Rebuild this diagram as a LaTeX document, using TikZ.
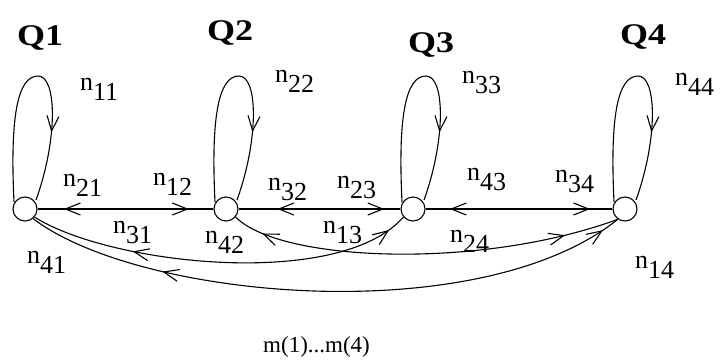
\documentclass[tikz,border=0pt]{standalone}
\usepackage{fontspec}
\setmainfont{Liberation Serif}
\usetikzlibrary{arrows.meta,decorations.markings,calc}
\newcommand\nlab[1]{n\raisebox{-10pt}{#1}}
\newcommand\selfloop[1]{\draw[edge,looparr] ($(#1)+(-11,-7)$) .. controls ($(#1)+(-15,-90)$) and ($(#1)+(-8,-133)$) .. ($(#1)+(13,-133)$) .. controls ($(#1)+(32,-133)$) and ($(#1)+(33,-70)$) .. ($(#1)+(11,-9)$);}
\begin{document}
\begin{tikzpicture}[x=1pt,y=-1pt,
  >={Straight Barb[length=15pt,width=12pt]},
  st/.style={circle,draw,line width=1.1pt,minimum size=24pt,inner sep=0pt},
  edge/.style={line width=1.1pt},
  ql/.style={anchor=base west,inner sep=0pt,font=\fontsize{30}{30}\bfseries\selectfont},
  nl/.style={anchor=base west,inner sep=0pt,font=\fontsize{26}{26}\selectfont},
  ml/.style={anchor=base west,inner sep=0pt,font=\fontsize{23}{23}\selectfont},
  twoway/.style 2 args={postaction={decorate,decoration={markings,
     mark=at position #1 with {\arrowreversed{>}},
     mark=at position #2 with {\arrow{>}}}}},
  looparr/.style={postaction={decorate,decoration={markings,
     mark=at position 0.74 with {\arrow{>}}}}}
]
\useasboundingbox (0,0) rectangle (720,360);
% states
\node[st] (q1) at (25,209) {};
\node[st] (q2) at (226,209) {};
\node[st] (q3) at (413,209) {};
\node[st] (q4) at (625,209) {};
% titles
\node[ql] (t1) at (17,45) {\scalebox{1.2}[1]{Q1}};
\node[ql] (t2) at (207,40) {\scalebox{1.2}[1]{Q2}};
\node[ql] (t3) at (408,52) {\scalebox{1.2}[1]{Q3}};
\node[ql] (t4) at (620,44) {\scalebox{1.2}[1]{Q4}};
% self loops
\selfloop{q1}
\selfloop{q2}
\selfloop{q3}
\selfloop{q4}
% straight edges
\draw[edge,twoway={0.15}{0.86}] (q1) -- (q2);
\draw[edge,twoway={0.24}{0.90}] (q2) -- (q3);
\draw[edge,twoway={0.13}{0.88}] (q3) -- (q4);
% curved edges
\draw[edge,twoway={0.27}{0.95}] (q1.-40) .. controls (110,265) and (340,290) .. (q3.-140);
\draw[edge,twoway={0.23}{0.97}] (q1.-50) .. controls (140,300) and (480,330) .. (q4.-125);
\draw[edge,twoway={0.08}{0.86}] (q2.-40) .. controls (280,262) and (480,270) .. (q4.-125);
% labels
\node[nl] (n11) at (80,90) {\nlab{11}};
\node[nl] (n21) at (63,186) {\nlab{21}};
\node[nl] (n12) at (153,185) {\nlab{12}};
\node[nl] (n31) at (113,233) {\nlab{31}};
\node[nl] (n41) at (27,263) {\nlab{41}};
\node[nl] (n42) at (205,243) {\nlab{42}};
\node[nl] (n22) at (275,82) {\nlab{22}};
\node[nl] (n32) at (268,190) {\nlab{32}};
\node[nl] (n23) at (337,188) {\nlab{23}};
\node[nl] (n13) at (323,233) {\nlab{13}};
\node[nl] (n33) at (462,83) {\nlab{33}};
\node[nl] (n43) at (467,180) {\nlab{43}};
\node[nl] (n34) at (555,182) {\nlab{34}};
\node[nl] (n24) at (450,242) {\nlab{24}};
\node[nl] (n14) at (635,268) {\nlab{14}};
\node[nl] (n44) at (675,85) {\nlab{44}};
\node[ml] (m) at (263,352) {m(1)...m(4)};
\end{tikzpicture}
\end{document}
